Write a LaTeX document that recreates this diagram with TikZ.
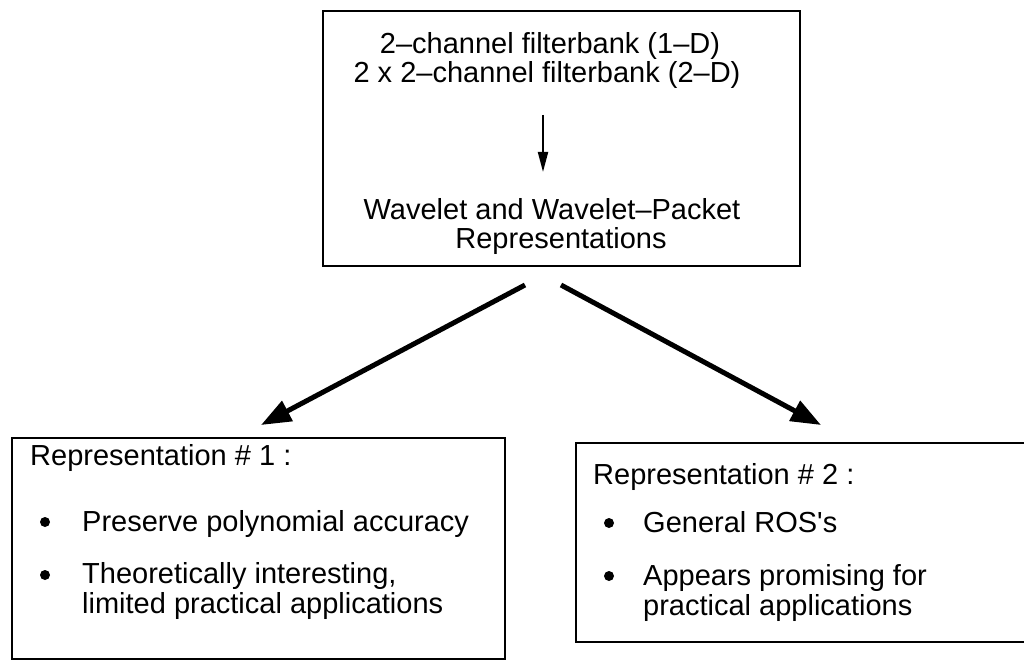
\documentclass[tikz,border=0pt]{standalone}
\usepackage{fontspec}
\setmainfont{Liberation Sans}
\usetikzlibrary{arrows.meta}
\begin{document}
\begin{tikzpicture}[x=1pt,y=-1pt,
  boxline/.style={line width=2pt},
  txt/.style={inner sep=0pt,anchor=base west,font=\fontsize{29}{31}\selectfont},
  ctxt/.style={inner sep=0pt,anchor=base,font=\fontsize{29}{31}\selectfont},
  dot/.style={circle,fill=black,inner sep=0pt,minimum size=10pt},
  bigarrow/.style={line width=5pt,-{Triangle[length=30pt,width=22pt]}},
  smallarrow/.style={line width=2pt,-{Triangle[length=20pt,width=10pt]}}]
\useasboundingbox (0,0) rectangle (1024,663);
% top box
\draw[boxline] (323,11) rectangle (800,266);
\node[ctxt] (t1) at (550,54) {2–channel filterbank (1–D)};
\node[ctxt] (t2) at (547,83) {2 x 2–channel filterbank (2–D)};
\node[ctxt] (t3) at (552,219) {Wavelet and Wavelet–Packet};
\node[ctxt] (t4) at (561,248) {Representations};
\coordinate (sa) at (543,115);
\coordinate (sb) at (543,172);
\draw[smallarrow] (sa) -- (sb);
% left box
\draw[boxline] (12,438) rectangle (505,659);
\node[txt] (l0) at (30,465) {Representation \# 1 :};
\node[dot] (ld1) at (45,522) {};
\node[txt] (l1) at (82,531) {Preserve polynomial accuracy};
\node[dot] (ld2) at (45,575) {};
\node[txt] (l2) at (82,583) {Theoretically interesting,};
\node[txt] (l3) at (82,613) {limited practical applications};
% right box (cut off at the right edge)
\draw[boxline] (1040,443) -- (576,443) -- (576,642) -- (1040,642);
\node[txt] (r0) at (593,484) {Representation \# 2 :};
\node[dot] (rd1) at (609,523) {};
\node[txt] (r1) at (643,532) {General ROS\textquotesingle s};
\node[dot] (rd2) at (609,576) {};
\node[txt] (r2) at (643,585) {Appears promising for};
\node[txt] (r3) at (643,615) {practical applications};
% big arrows
\coordinate (la) at (525,285);
\coordinate (lb) at (261,425);
\coordinate (ra) at (561,285);
\coordinate (rb) at (821,425);
\draw[bigarrow] (la) -- (lb);
\draw[bigarrow] (ra) -- (rb);
\end{tikzpicture}
\end{document}
